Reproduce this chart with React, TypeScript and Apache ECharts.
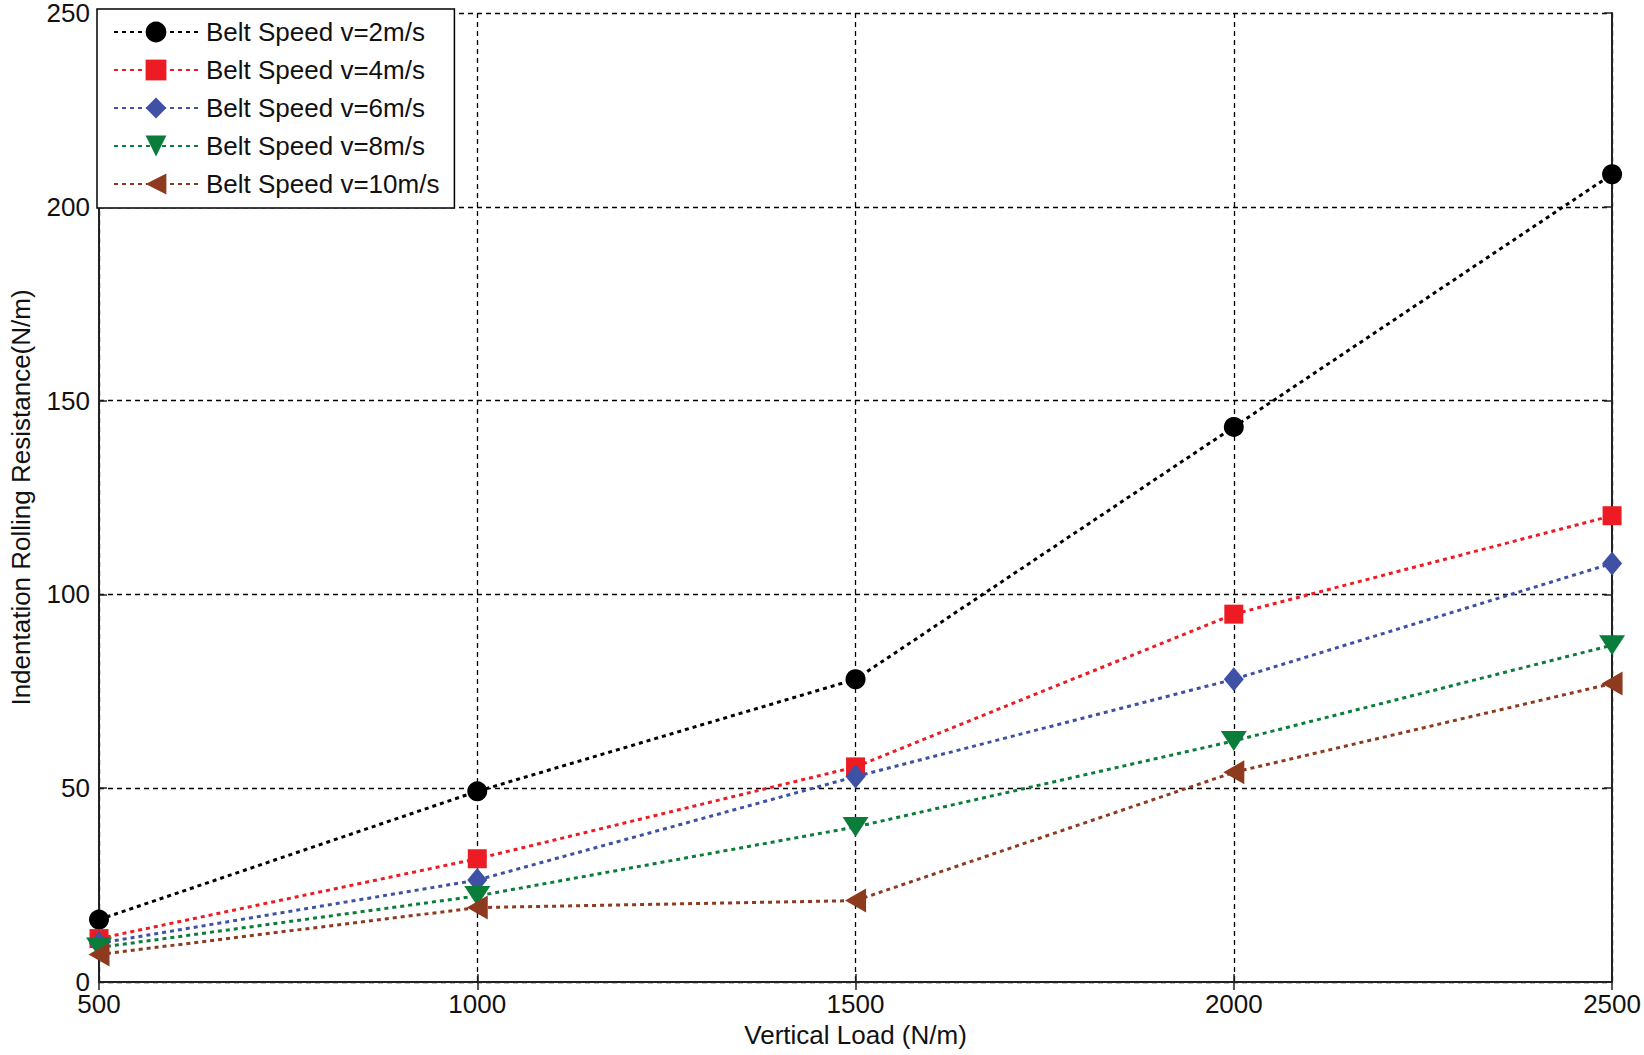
import React, { useEffect, useRef } from "react";
import * as echarts from "echarts";

const loads = [500, 1000, 1500, 2000, 2500];
const seriesNames = [
  "Belt Speed v=2m/s",
  "Belt Speed v=4m/s",
  "Belt Speed v=6m/s",
  "Belt Speed v=8m/s",
  "Belt Speed v=10m/s",
];
const v2 = [16.1, 49.2, 78.1, 143.2, 208.4];
const v4 = [11.2, 31.8, 55.5, 94.9, 120.3];
const v6 = [10.0, 26.3, 53.0, 78.1, 108.0];
const v8 = [8.9, 22.2, 40.0, 62.2, 86.9];
const v10 = [7.1, 19.2, 21.0, 54.1, 77.0];
const xTicks = [500, 1000, 1500, 2000, 2500];
const yTicks = [0, 50, 100, 150, 200, 250];

const FONT = "'Liberation Sans', Arial, Helvetica, sans-serif";

export default function App() {
  const ref = useRef<HTMLDivElement>(null);
  useEffect(() => {
    if (!ref.current) return;
    const chart = echarts.init(ref.current, undefined, { renderer: "svg" });
    const valuesList = [v2, v4, v6, v8, v10];
    const colors = ["#000000", "#ED1C24", "#3F51A5", "#0B7D3A", "#8E3A1E"];
    const symbols = ["circle", "rect", "diamond", "triangle", "triangle"];
    const sizes: any[] = [20, 19, [20, 24], [26, 20], [24, 21]];
    const rotates = [0, 0, 0, 180, 90];
    const series = valuesList.map((vals, i) => ({
      name: seriesNames[i],
      type: "line",
      data: loads.map((x, j) => [x, vals[j]]),
      symbol: symbols[i],
      symbolSize: sizes[i],
      symbolRotate: rotates[i],
      showAllSymbol: true,
      lineStyle: { color: colors[i], width: 3, type: [4, 4] },
      itemStyle: { color: colors[i] },
      z: 3 + i,
    }));
    const axisLine = { show: true, lineStyle: { color: "#222", width: 2 } };
    const axisTick = { show: true, inside: true, length: 8, lineStyle: { color: "#222", width: 1.5 } };
    const splitLine = { show: true, lineStyle: { color: "#000", width: 1.3, type: [5, 4] } };
    const labelStyle = { color: "#111", fontSize: 26, fontFamily: FONT };
    chart.setOption({
      animation: false,
      backgroundColor: "#fff",
      grid: { left: 97.5, right: 29, top: 12.7, bottom: 73, containLabel: false },
      legend: {
        left: 97,
        top: 9,
        orient: "vertical",
        backgroundColor: "#fff",
        borderColor: "#000",
        borderWidth: 1.5,
        padding: [10, 15, 11, 16],
        itemWidth: 84,
        itemHeight: 26,
        itemGap: 12,
        data: seriesNames,
        textStyle: { color: "#111", fontSize: 26, fontFamily: FONT, lineHeight: 26, padding: [0, 0, 0, 3] },
      },
      xAxis: [
        {
          type: "value",
          min: xTicks[0],
          max: xTicks[xTicks.length - 1],
          interval: 500,
          name: "Vertical Load (N/m)",
          nameLocation: "middle",
          nameGap: 37,
          nameTextStyle: { color: "#111", fontSize: 26, fontFamily: FONT },
          axisLine,
          axisTick,
          axisLabel: { ...labelStyle, margin: 9, formatter: (v: number) => String(v) },
          splitLine,
        },
        {
          type: "value",
          position: "top",
          min: xTicks[0],
          max: xTicks[xTicks.length - 1],
          interval: 500,
          axisLine,
          axisTick,
          axisLabel: { show: false },
          splitLine: { show: false },
        },
      ],
      yAxis: [
        {
          type: "value",
          min: yTicks[0],
          max: yTicks[yTicks.length - 1],
          interval: 50,
          name: "Indentation Rolling Resistance(N/m)",
          nameLocation: "middle",
          nameGap: 65,
          nameTextStyle: { color: "#111", fontSize: 26, fontFamily: FONT },
          axisLine,
          axisTick,
          axisLabel: { ...labelStyle, margin: 9, formatter: (v: number) => String(v) },
          splitLine,
        },
        {
          type: "value",
          position: "right",
          min: yTicks[0],
          max: yTicks[yTicks.length - 1],
          interval: 50,
          axisLine,
          axisTick,
          axisLabel: { show: false },
          splitLine: { show: false },
        },
      ],
      series,
    });
    return () => chart.dispose();
  }, []);
  return (
    <div
      ref={ref}
      style={{ position: "absolute", left: 0, top: 0, width: 1644, height: 1055 }}
    />
  );
}
